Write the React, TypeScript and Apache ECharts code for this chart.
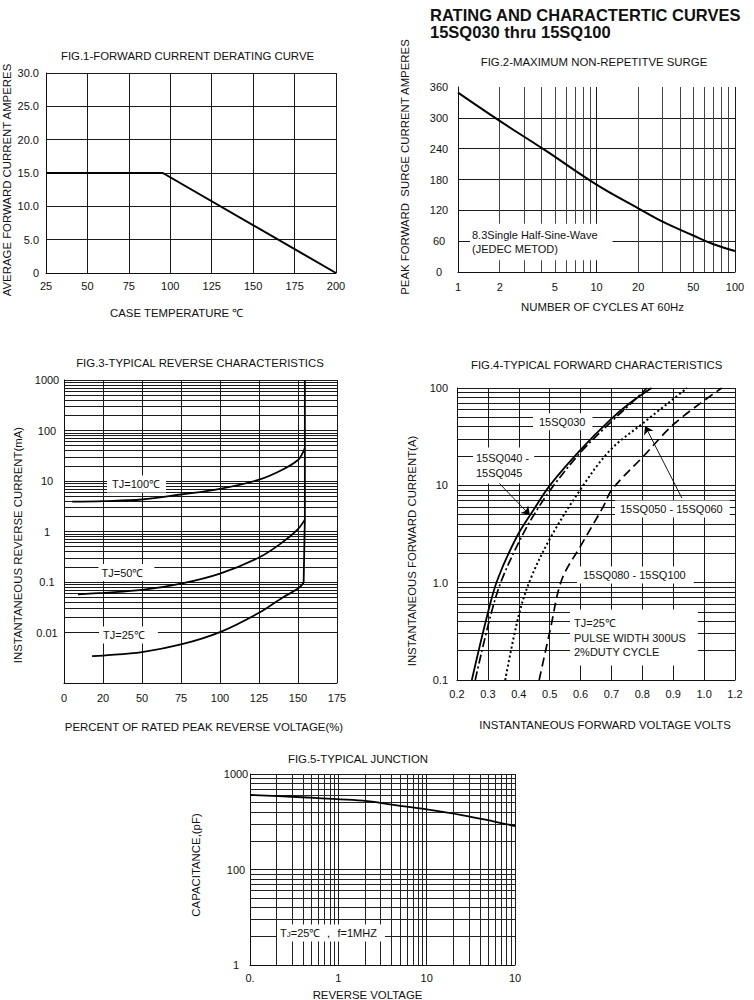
import React, { useEffect, useRef } from "react";
import * as echarts from "echarts";

const FONT = '"Liberation Sans", Arial, Helvetica, sans-serif';
const INK = "#111";

// ---------------- Fig.1 forward current derating ----------------
const FIG1_CASE_TEMP = [25, 95.5, 200];
const FIG1_AVG_CURRENT = [15, 15, 0];
const FIG1_X_LABELS = ["25", "50", "75", "100", "125", "150", "175", "200"];
const FIG1_Y_LABELS = ["0", "5.0", "10.0", "15.0", "20.0", "25.0", "30.0"];

// ---------------- Fig.2 max non-repetitive surge ----------------
const FIG2_CYCLES = [1, 2, 4.25, 10, 20, 30, 50, 70, 100];
const FIG2_PEAK_SURGE = [349, 294, 237, 170, 124, 98, 71, 54, 41];
const FIG2_Y_LABELS = ["0", "60", "120", "180", "240", "300", "360"];
const FIG2_X_DECADE_LABELS = ["1", "10", "100"];
const FIG2_X_EXTRA_TICKS = [2, 5, 20, 50];
const FIG2_X_DECADES = [1, 10];

// ---------------- Fig.3 typical reverse characteristics ----------------
const FIG3_TJ100_X = [5.3, 25, 50, 75, 100, 125, 140, 150, 153, 154.4];
const FIG3_TJ100_Y = [3.9, 4.0, 4.3, 5.4, 7.0, 10.6, 16.7, 26, 36, 45];
const FIG3_TJ50_X = [9, 25, 50, 75, 100, 125, 140, 150, 154.3];
const FIG3_TJ50_Y = [0.057, 0.061, 0.0695, 0.093, 0.147, 0.305, 0.61, 1.12, 1.7];
const FIG3_TJ25_X = [18, 25, 50, 75, 100, 125, 140, 150, 153.6];
const FIG3_TJ25_Y = [0.0034, 0.0035, 0.0041, 0.0058, 0.0102, 0.0246, 0.049, 0.074, 0.096];
const FIG3_LIMIT_X = [153.6, 154.4, 154.4];
const FIG3_LIMIT_Y = [0.096, 1.7, 1000];
const FIG3_X_LABELS = ["0", "20", "50", "75", "100", "125", "150", "175"];
const FIG3_Y_LABELS = ["", "0.01", "0.1", "1", "10", "100", "1000"];
const FIG3_Y_DECADES = [0.001, 0.01, 0.1, 1, 10, 100];

// ---------------- Fig.4 typical forward characteristics ----------------
const FIG4_SQ030_V = [0.248, 0.297, 0.331, 0.394, 0.448, 0.502, 0.599, 0.696, 0.76, 0.83];
const FIG4_SQ030_I = [0.1, 0.45, 1.07, 2.98, 5.6, 10.1, 23, 47, 70, 100];
const FIG4_SQ040_V = [0.259, 0.308, 0.345, 0.41, 0.459, 0.51, 0.604, 0.701, 0.758, 0.815];
const FIG4_SQ040_I = [0.1, 0.45, 1.07, 3.0, 5.6, 9.7, 22.5, 45.5, 67, 100];
const FIG4_SQ050_V = [0.356, 0.399, 0.437, 0.502, 0.599, 0.696, 0.803, 0.945];
const FIG4_SQ050_I = [0.1, 0.45, 1.07, 2.87, 9.0, 23, 43.7, 100];
const FIG4_SQ080_V = [0.466, 0.502, 0.539, 0.599, 0.674, 0.701, 0.803, 0.906, 1.057];
const FIG4_SQ080_I = [0.1, 0.33, 1.07, 2.35, 6.07, 9.0, 19.8, 43.7, 100];
const FIG4_X_LABELS = ["0.2", "0.3", "0.4", "0.5", "0.6", "0.7", "0.8", "0.9", "1.0", "1.2"];
const FIG4_Y_LABELS = ["0.1", "1.0", "10", "100"];
const FIG4_Y_DECADES = [0.1, 1, 10];
// arrows: [fromV, fromI, toV, toI]
const FIG4_ARROW_040 = [0.333, 10.8, 0.436, 4.95];
const FIG4_ARROW_050 = [0.928, 7.4, 0.809, 40.7];

// ---------------- Fig.5 typical junction capacitance ----------------
const FIG5_REV_VOLT = [0.1, 0.3, 0.75, 1.9, 4.4, 10, 25, 60, 100];
const FIG5_CAP = [603, 578, 551, 525, 473, 427, 372, 316, 285];
const FIG5_X_LABELS = ["0.", "1", "10", "10"];
const FIG5_Y_LABELS = ["1", "100", "1000"];
const FIG5_X_DECADES = [0.1, 1, 10];
const FIG5_Y_DECADES = [10, 100];

const LOG_STEPS = [2, 3, 4, 5, 6, 7, 8, 9];

function pairs(xs: number[], ys: number[]) {
  return xs.map((x, i) => [x, ys[i]]);
}
function minors(decades: number[]) {
  const out: number[] = [];
  decades.forEach((d) => LOG_STEPS.forEach((m) => out.push(+(m * d).toPrecision(6))));
  return out;
}
const linFmt = (labels: string[], min: number, step: number) => (v: number) =>
  labels[Math.round((v - min) / step)] ?? "";
const logFmt = (labels: string[], min: number) => (v: number) =>
  labels[Math.round(Math.log10(v / min))] ?? "";

function axis(gridIndex: number, label: any, extra: any) {
  return {
    gridIndex,
    axisTick: { show: false },
    axisLine: { show: true, onZero: false, lineStyle: { color: "#111", width: 1 } },
    splitLine: { show: true, lineStyle: { color: "#1a1a1a", width: 1 } },
    axisLabel: { color: INK, fontSize: 11, fontFamily: FONT, ...label },
    ...extra,
  };
}

function gridSeries(idx: number, data: any[], color = "#1a1a1a") {
  return {
    type: "line",
    xAxisIndex: idx,
    yAxisIndex: idx,
    data: [],
    silent: true,
    markLine: {
      silent: true,
      symbol: ["none", "none"],
      animation: false,
      label: { show: false },
      emphasis: { disabled: true },
      lineStyle: { color, width: 1, type: "solid" },
      data,
    },
  };
}

function curve(idx: number, xs: number[], ys: number[], lineStyle: any, smooth: any = 0.35) {
  return {
    type: "line",
    xAxisIndex: idx,
    yAxisIndex: idx,
    data: pairs(xs, ys),
    symbol: "none",
    smooth,
    z: 10,
    silent: true,
    lineStyle: { color: "#000", width: 1.8, cap: "butt", ...lineStyle },
  };
}

function T(text: string, x: number, y: number, o: any = {}) {
  const style: any = {
    text,
    fill: INK,
    fontFamily: FONT,
    fontSize: o.size ?? 11,
    fontWeight: o.bold ? "bold" : "normal",
    align: o.align ?? "center",
    verticalAlign: "middle",
  };
  if (o.lh) style.lineHeight = o.lh;
  if (o.bg) style.backgroundColor = o.bg;
  if (o.pad) style.padding = o.pad;
  if (o.rich) style.rich = o.rich;
  return { type: "text", x, y, z: 100, silent: true, rotation: o.rot ?? 0, style };
}

function buildOption() {
  const rot = Math.PI / 2;
  const fig2Labels = FIG2_X_EXTRA_TICKS.map((v) => ({
    xAxis: v,
    lineStyle: { color: "#444", width: 1 },
    label: {
      show: true,
      position: "start",
      distance: 9,
      formatter: String(v),
      color: INK,
      fontSize: 11,
      fontFamily: FONT,
    },
  }));
  const fig2Minor = minors(FIG2_X_DECADES)
    .filter((v) => FIG2_X_EXTRA_TICKS.indexOf(v) < 0)
    .map((v) => ({ xAxis: v, lineStyle: { color: "#444", width: 1 } }));

  return {
    animation: false,
    backgroundColor: "#fff",
    textStyle: { fontFamily: FONT },
    grid: [
      { left: 46, top: 73, width: 290, height: 200, outerBoundsMode: "none" },
      { left: 458, top: 87, width: 277, height: 185, outerBoundsMode: "none" },
      { left: 64, top: 380, width: 273, height: 303, outerBoundsMode: "none" },
      { left: 457, top: 388, width: 278, height: 292, outerBoundsMode: "none" },
      { left: 250, top: 774, width: 265, height: 191, outerBoundsMode: "none" },
    ],
    xAxis: [
      axis(0, { margin: 7, formatter: linFmt(FIG1_X_LABELS, 25, 25) }, { type: "value", min: 25, max: 200, interval: 25 }),
      axis(1, { margin: 9, formatter: logFmt(FIG2_X_DECADE_LABELS, 1) }, { type: "log", logBase: 10, min: 1, max: 100 }),
      axis(2, { margin: 9, formatter: linFmt(FIG3_X_LABELS, 0, 25) }, { type: "value", min: 0, max: 175, interval: 25 }),
      axis(3, { margin: 8, formatter: linFmt(FIG4_X_LABELS, 0.2, 0.1) }, { type: "value", min: 0.2, max: 1.1, interval: 0.1 }),
      axis(4, { margin: 7, formatter: logFmt(FIG5_X_LABELS, 0.1) }, { type: "log", logBase: 10, min: 0.1, max: 100 }),
    ],
    yAxis: [
      axis(0, { margin: 7, formatter: linFmt(FIG1_Y_LABELS, 0, 5) }, { type: "value", min: 0, max: 30, interval: 5 }),
      axis(
        1,
        { margin: 19, align: "center", formatter: linFmt(FIG2_Y_LABELS, 0, 60) },
        {
          type: "value",
          min: 0,
          max: 360,
          interval: 60,
          splitLine: { show: true, showMaxLine: false, lineStyle: { color: "#1a1a1a", width: 1 } },
        }
      ),
      axis(2, { margin: 17, align: "center", formatter: logFmt(FIG3_Y_LABELS, 0.001) }, { type: "log", logBase: 10, min: 0.001, max: 1000 }),
      axis(3, { margin: 9, formatter: logFmt(FIG4_Y_LABELS, 0.1) }, { type: "log", logBase: 10, min: 0.1, max: 100 }),
      axis(4, { margin: 14, align: "center", formatter: logFmt(FIG5_Y_LABELS, 10) }, { type: "log", logBase: 10, min: 10, max: 1000 }),
    ],
    series: [
      // Fig.1
      curve(0, FIG1_CASE_TEMP, FIG1_AVG_CURRENT, { width: 2 }, false),
      // Fig.2
      gridSeries(1, [...fig2Minor, ...fig2Labels], "#444"),
      curve(1, FIG2_CYCLES, FIG2_PEAK_SURGE, { width: 2 }, 0.4),
      // Fig.3
      gridSeries(2, minors(FIG3_Y_DECADES).map((v) => ({ yAxis: v }))),
      curve(2, FIG3_TJ100_X, FIG3_TJ100_Y, {}),
      curve(2, FIG3_TJ50_X, FIG3_TJ50_Y, {}),
      curve(2, FIG3_TJ25_X, FIG3_TJ25_Y, {}),
      curve(2, FIG3_LIMIT_X, FIG3_LIMIT_Y, {}, false),
      // Fig.4
      gridSeries(3, minors(FIG4_Y_DECADES).map((v) => ({ yAxis: v }))),
      curve(3, FIG4_SQ030_V, FIG4_SQ030_I, { width: 1.8 }),
      curve(3, FIG4_SQ040_V, FIG4_SQ040_I, { width: 1.7, type: [9, 3, 2, 3] }),
      curve(3, FIG4_SQ050_V, FIG4_SQ050_I, { width: 2, type: [2, 2.6] }),
      curve(3, FIG4_SQ080_V, FIG4_SQ080_I, { width: 1.7, type: [9, 5] }),
      {
        type: "line",
        xAxisIndex: 3,
        yAxisIndex: 3,
        data: [],
        silent: true,
        markLine: {
          silent: true,
          symbol: ["none", "arrow"],
          symbolSize: 8,
          label: { show: false },
          emphasis: { disabled: true },
          lineStyle: { color: "#000", width: 0.9, type: "solid" },
          data: [FIG4_ARROW_040, FIG4_ARROW_050].map((a) => [
            { coord: [a[0], a[1]] },
            { coord: [a[2], a[3]] },
          ]),
        },
      },
      // Fig.5
      gridSeries(
        4,
        [
          ...minors(FIG5_X_DECADES).map((v) => ({ xAxis: v })),
          ...minors(FIG5_Y_DECADES).map((v) => ({ yAxis: v })),
        ],
        "#222"
      ),
      curve(4, FIG5_REV_VOLT, FIG5_CAP, { width: 1.8 }, 0.4),
    ],
    graphic: [
      T("RATING AND CHARACTERTIC CURVES", 430, 14.5, { size: 16.5, bold: true, align: "left" }),
      T("15SQ030 thru 15SQ100", 430, 31.5, { size: 16.5, bold: true, align: "left" }),
      // Fig.1
      T("FIG.1-FORWARD CURRENT DERATING CURVE", 187.5, 56, { size: 11.4 }),
      T("CASE TEMPERATURE ℃", 176.7, 313, { size: 11.4 }),
      T("AVERAGE FORWARD CURRENT AMPERES", 7, 180, { size: 11.4, rot }),
      // Fig.2
      T("FIG.2-MAXIMUM NON-REPETITVE SURGE", 594, 61.7, { size: 11.4 }),
      T("PEAK FORWARD  SURGE CURRENT AMPERES", 405, 167, { size: 11.4, rot }),
      T("NUMBER OF CYCLES AT 60Hz", 602.5, 306.7, { size: 11.4 }),
      T("8.3Single Half-Sine-Wave\n(JEDEC METOD)", 470, 242, { align: "left", lh: 14.3, bg: "#fff", pad: [4, 15, 4, 2] }),
      // Fig.3
      T("FIG.3-TYPICAL REVERSE CHARACTERISTICS", 200, 362.5, { size: 11.4 }),
      T("INSTANTANEOUS REVERSE CURRENT(mA)", 18, 545, { size: 11.4, rot }),
      T("PERCENT OF RATED PEAK REVERSE VOLTAGE(%)", 204, 727, { size: 11.4 }),
      T("TJ=100℃", 107, 484, { align: "left", bg: "#fff", pad: [3, 6, 3, 5] }),
      T("TJ=50℃", 98.5, 572.5, { align: "left", bg: "#fff", pad: [3, 11, 3, 3] }),
      T("TJ=25℃", 99, 635, { align: "left", bg: "#fff", pad: [3, 13, 3, 4] }),
      // Fig.4
      T("FIG.4-TYPICAL FORWARD CHARACTERISTICS", 596.7, 365, { size: 11.4 }),
      T("INSTANTANEOUS FORWARD CURRENT(A)", 411.7, 551, { size: 11.4, rot }),
      T("INSTANTANEOUS FORWARD VOLTAGE VOLTS", 605, 725, { size: 11.4 }),
      T("15SQ030", 533, 421.7, { align: "left", bg: "#fff", pad: [3, 7, 3, 6] }),
      T("15SQ040 -\n15SQ045", 473, 465.5, { align: "left", lh: 15, bg: "#fff", pad: [3, 5, 3, 3] }),
      T("15SQ050 - 15SQ060", 615, 509, { align: "left", bg: "#fff", pad: [3, 7, 3, 5] }),
      T("15SQ080 - 15SQ100", 577, 575, { align: "left", bg: "#fff", pad: [3, 8, 3, 6] }),
      T("TJ=25℃\nPULSE WIDTH 300US\n2%DUTY CYCLE", 570, 637.5, { align: "left", lh: 14.7, bg: "#fff", pad: [6, 12, 6, 4] }),
      // Fig.5
      T("FIG.5-TYPICAL JUNCTION", 358, 759, { size: 11.4 }),
      T("CAPACITANCE,(pF)", 196, 865, { size: 11.4, rot }),
      T("REVERSE VOLTAGE", 367.5, 995, { size: 11.4 }),
      T("{a|T}{b|J}{a|=25℃ ， f=1MHZ}", 277, 933, {
        align: "left",
        bg: "#fff",
        pad: [3, 8, 3, 3],
        rich: {
          a: { fontSize: 11, fontFamily: FONT, fill: INK },
          b: { fontSize: 8, fontFamily: FONT, fill: INK, verticalAlign: "bottom" },
        },
      }),
    ],
  };
}

export default function App() {
  const ref = useRef<HTMLDivElement>(null);
  useEffect(() => {
    if (!ref.current) return;
    const chart = echarts.init(ref.current, undefined, { renderer: "svg" });
    chart.setOption(buildOption() as any);
    return () => chart.dispose();
  }, []);
  return (
    <div
      ref={ref}
      style={{ position: "absolute", left: 0, top: 0, width: 754, height: 1000, background: "#fff" }}
    />
  );
}
